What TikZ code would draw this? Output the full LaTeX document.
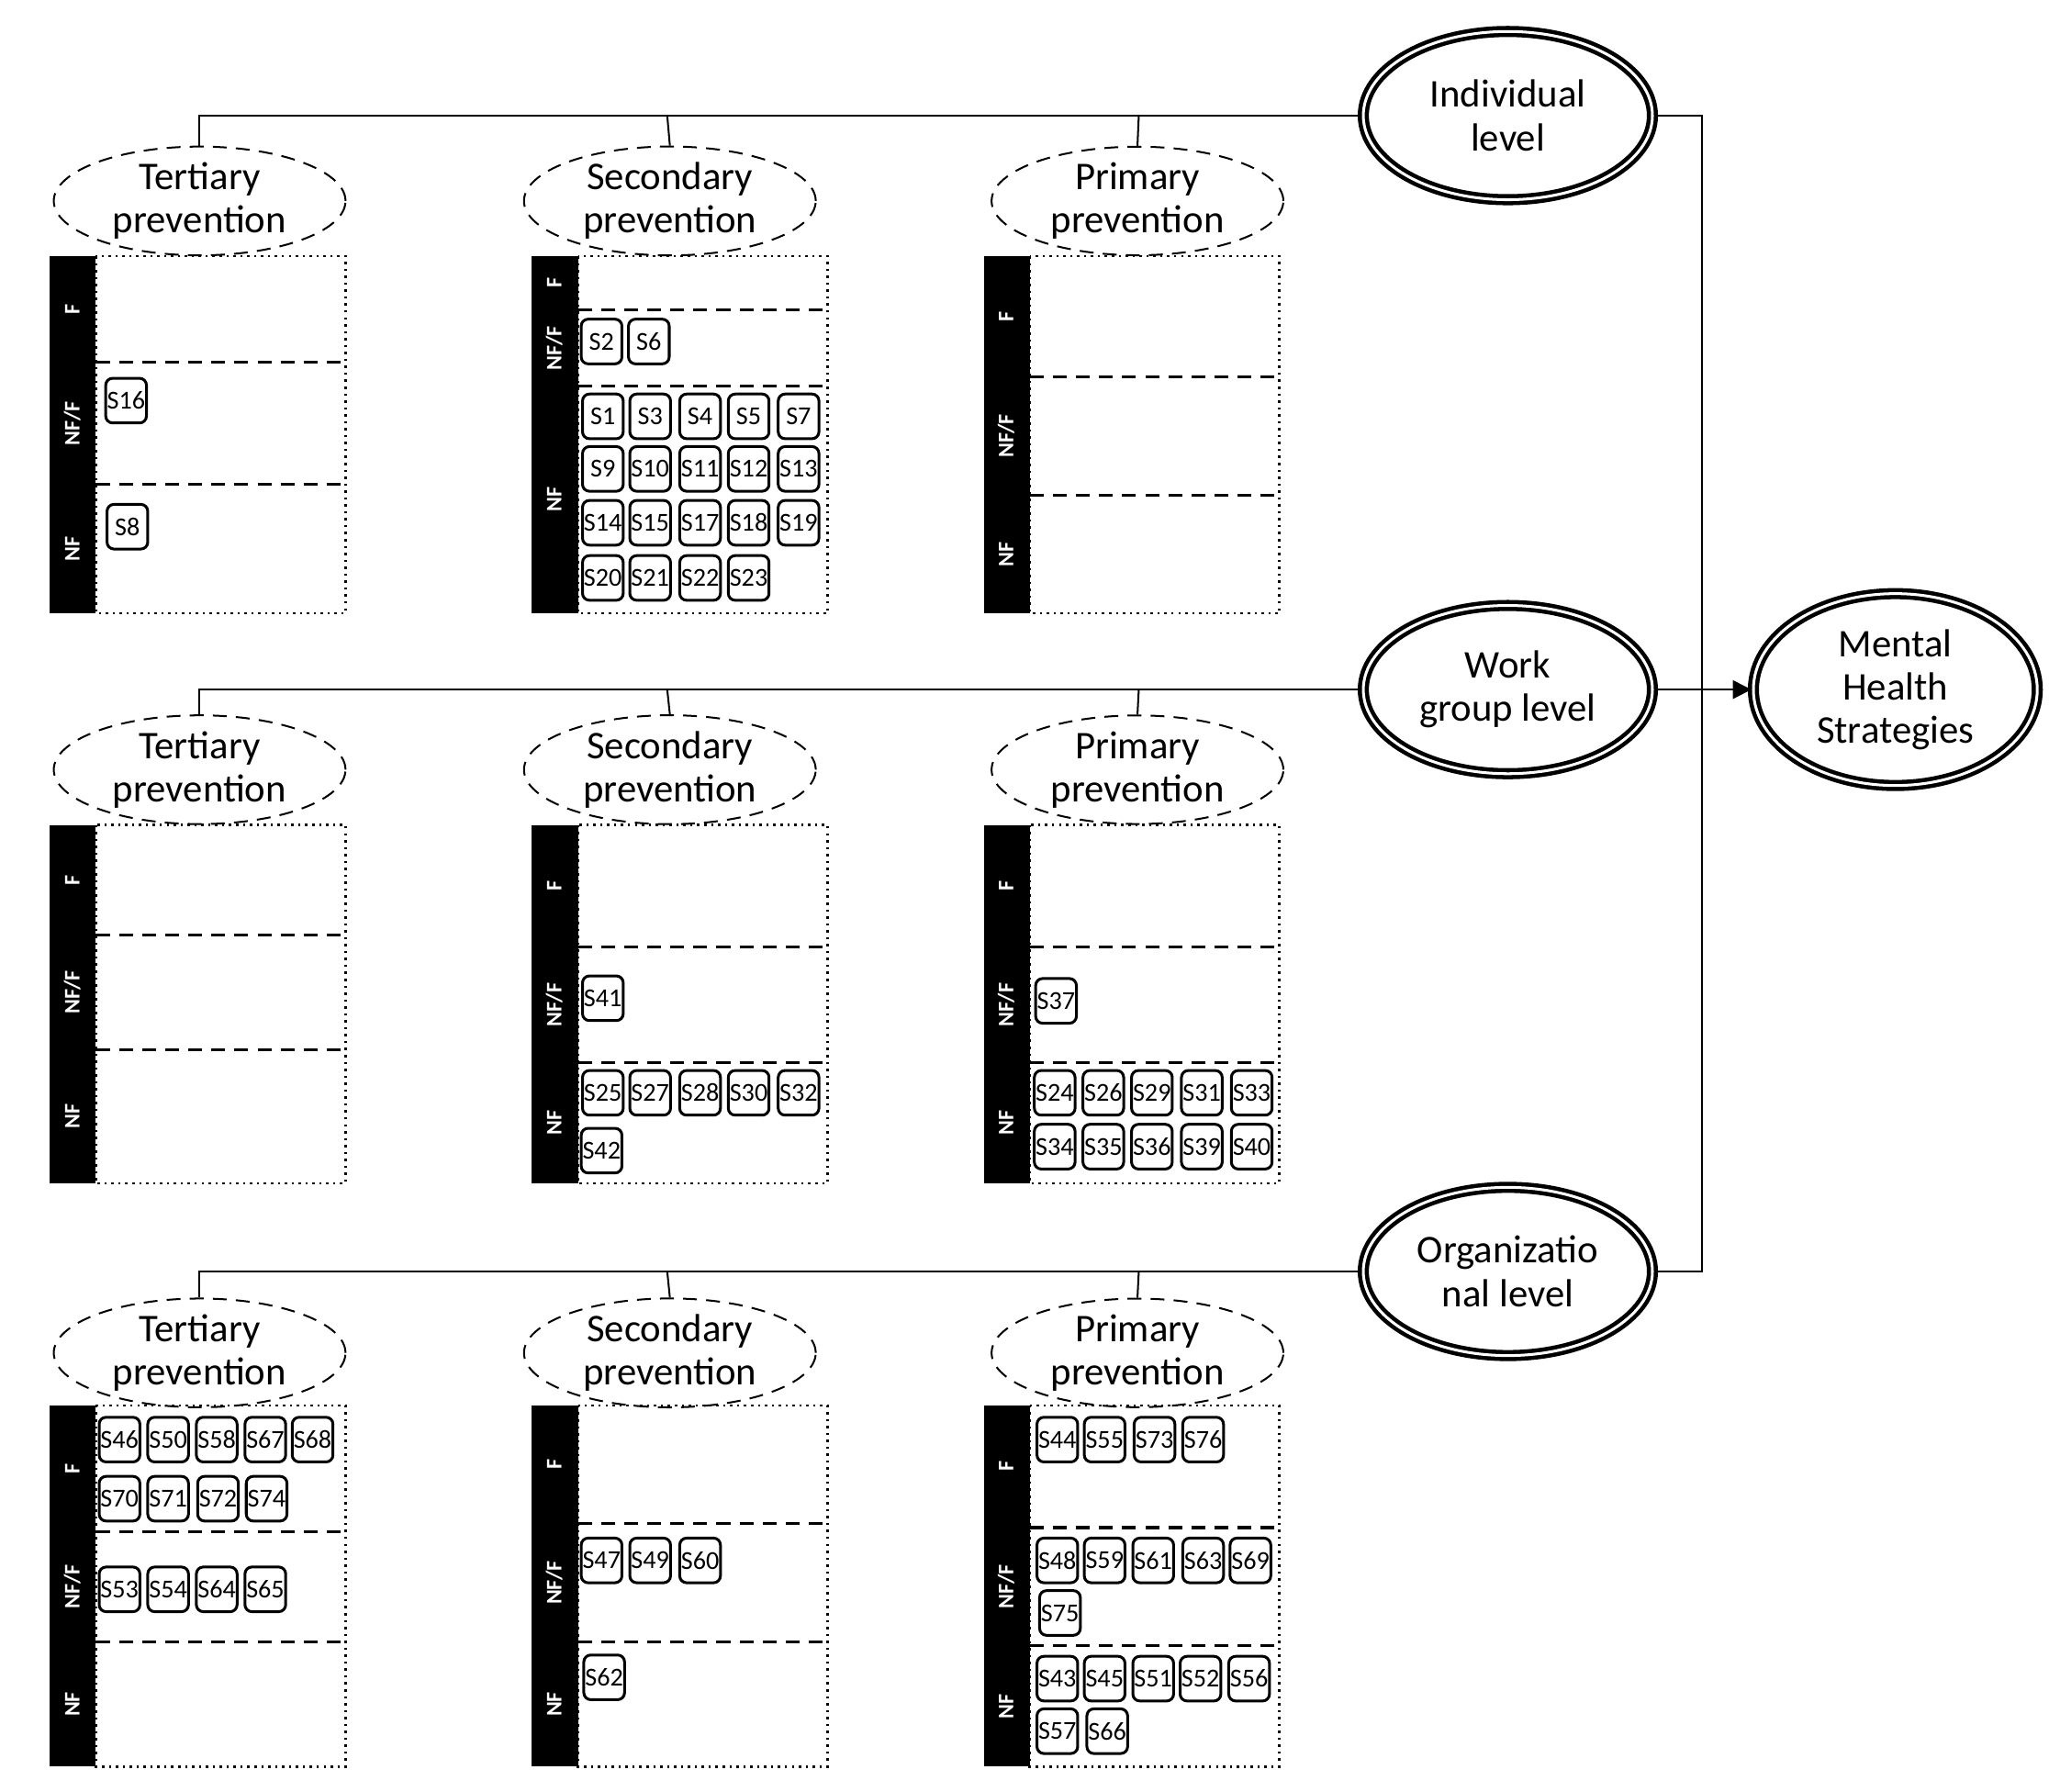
\documentclass[tikz,border=0pt]{standalone}
\usepackage{fontspec}
\setmainfont{Carlito}
\usetikzlibrary{shapes.geometric,arrows.meta}
\tikzset{
 prev/.style={ellipse,draw,densely dashed,minimum width=2.22cm,minimum height=0.66cm,inner sep=0pt,align=center,font=\fontsize{8.5}{9.4}\selectfont},
 lev/.style={ellipse,draw,line width=0.9pt,double=white,double distance=0.6pt,minimum width=2.2cm,minimum height=1.28cm,inner sep=0pt,align=center,font=\fontsize{8.5}{9.4}\selectfont},
 sb/.style={draw,rounded corners=1.5pt,line width=0.6pt,minimum width=0.31cm,minimum height=0.34cm,inner sep=0pt,font=\fontsize{5.6}{6}\selectfont},
 bl/.style={rotate=90,text=white,font=\fontsize{4.8}{5}\bfseries\selectfont},
 dv/.style={densely dashed,line width=0.6pt},
 bus/.style={line width=0.4pt}
}
\newcommand{\panel}[6]{% x0, ytop, ybot, d1, d2, name
 \fill (#1,#2) rectangle ++(35,#3-#2);
 \draw[densely dotted,line width=0.5pt] (#1+35,#2) rectangle (#1+225,#3);
 \draw[dv] (#1+35,#4) -- (#1+225,#4);
 \draw[dv] (#1+35,#5) -- (#1+225,#5);
 \node[bl] (#6F) at (#1+17,{(#2+#4)/2}) {F};
 \node[bl] (#6M) at (#1+17,{(#4+#5)/2}) {NF/F};
 \node[bl] (#6N) at (#1+17,{(#5+#3)/2}) {NF};
}
\newcommand{\sbx}[3]{\node[sb] (n#3) at (#1,#2) {S#3};}
\begin{document}
\begin{tikzpicture}[x=0.01cm,y=-0.01cm]
\fill[white] (0,0) rectangle (1560,1364);
\useasboundingbox (0,0) rectangle (1560,1364);
% levels
\node[lev] (ind) at (1148,88) {Individual\\level};
\node[lev] (wg) at (1148,525) {Work\\group level};
\node[lev] (org) at (1148,968) {Organizatio\\nal level};
\node[lev,minimum width=2.16cm,minimum height=1.46cm] (mh) at (1443,525) {Mental\\Health\\Strategies};
\coordinate (bt) at (1296,88);
\coordinate (bb) at (1296,968);
\coordinate (bm) at (1296,525);
\draw[bus] (ind.east) -- (bt) -- (bb) -- (org.east);
\draw[bus] (wg.east) -- (bm);
\draw[bus,-{Triangle[length=4pt,width=4pt]}] (bm) -- (mh.west);
% rows
\foreach \r/\yl/\ye/\lv in {1/88/153/ind,2/525/586/wg,3/968/1030/org}{
 \node[prev] (t\r) at (152,\ye) {Tertiary\\prevention};
 \node[prev] (s\r) at (510,\ye) {Secondary\\prevention};
 \node[prev] (p\r) at (866,\ye) {Primary\\prevention};
 \coordinate (a\r) at (152,\yl);
 \coordinate (b\r) at (508,\yl);
 \coordinate (c\r) at (867,\yl);
 \draw[bus] (\lv.west) -- (a\r) -- (t\r.north);
 \draw[bus] (b\r) -- (s\r.north);
 \draw[bus] (c\r) -- (p\r.north);
}
\panel{38}{195}{467}{276}{369}{T1}
\panel{405}{195}{467}{236}{294}{S1}
\panel{749}{195}{467}{287}{377}{P1}
\panel{38}{628}{901}{712}{799}{T2}
\panel{405}{628}{901}{721}{809}{S2}
\panel{749}{628}{901}{721}{809}{P2}
\panel{38}{1070}{1345}{1166}{1250}{T3}
\panel{405}{1070}{1345}{1160}{1250}{S3}
\panel{749}{1070}{1345}{1163}{1253}{P3}
% row 1
\sbx{96}{305}{16}\sbx{97}{401}{8}
\sbx{458}{260}{2}\sbx{494}{260}{6}
\foreach \x/\n in {459/1,495/3,533/4,570/5,608/7}{\sbx{\x}{317}{\n}}
\foreach \x/\n in {459/9,495/10,533/11,570/12,608/13}{\sbx{\x}{357}{\n}}
\foreach \x/\n in {459/14,495/15,533/17,570/18,608/19}{\sbx{\x}{398}{\n}}
\foreach \x/\n in {459/20,495/21,533/22,570/23}{\sbx{\x}{440}{\n}}
% row 2
\sbx{459}{760}{41}
\foreach \x/\n in {459/25,495/27,533/28,570/30,608/32}{\sbx{\x}{832}{\n}}
\sbx{458}{876}{42}
\sbx{804}{762}{37}
\foreach \x/\n in {803/24,840/26,877/29,915/31,953/33}{\sbx{\x}{832}{\n}}
\foreach \x/\n in {803/34,840/35,877/36,915/39,953/40}{\sbx{\x}{873}{\n}}
% row 3
\foreach \x/\n in {91/46,128/50,165/58,202/67,238/68}{\sbx{\x}{1096}{\n}}
\foreach \x/\n in {91/70,128/71,166/72,203/74}{\sbx{\x}{1141}{\n}}
\foreach \x/\n in {91/53,128/54,165/64,202/65}{\sbx{\x}{1210}{\n}}
\foreach \x/\n in {458/47,495/49,533/60}{\sbx{\x}{1188}{\n}}
\sbx{460}{1277}{62}
\foreach \x/\n in {805/44,841/55,879/73,916/76}{\sbx{\x}{1096}{\n}}
\foreach \x/\n in {805/48,841/59,878/61,916/63,952/69}{\sbx{\x}{1188}{\n}}
\sbx{807}{1228}{75}
\foreach \x/\n in {805/43,841/45,878/51,914/52,951/56}{\sbx{\x}{1278}{\n}}
\sbx{805}{1318}{57}\sbx{843}{1318}{66}
\end{tikzpicture}
\end{document}
